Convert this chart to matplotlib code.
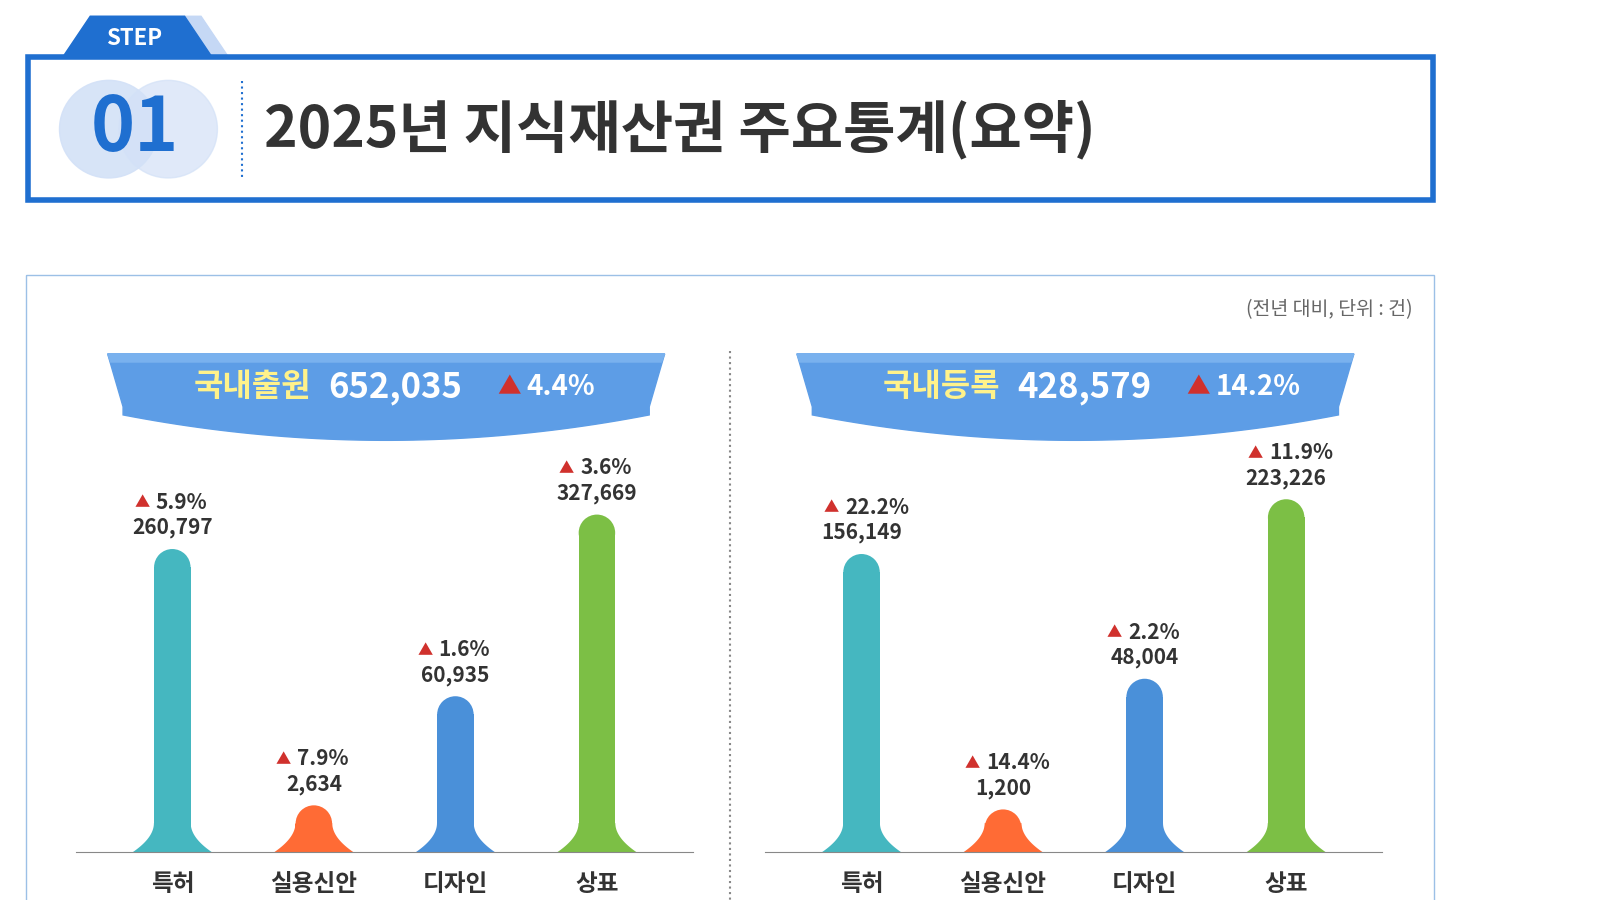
import numpy as np
import matplotlib.pyplot as plt
from matplotlib.patches import Polygon, Rectangle, Circle
import matplotlib.transforms as mtransforms

plt.rcParams['font.family'] = ['Noto Sans CJK KR', 'DejaVu Sans']

categories = ['특허', '실용신안', '디자인', '상표']
apply_values = [260797, 2634, 60935, 327669]
apply_pct = ['5.9%', '7.9%', '1.6%', '3.6%']
reg_values = [156149, 1200, 48004, 223226]
reg_pct = ['22.2%', '14.4%', '2.2%', '11.9%']
colors = ['#45b7c0', '#ff6b35', '#4a90d9', '#7cbf45']

W, H = 1560, 885
fig = plt.figure(figsize=(16, 9), dpi=100)
bg = fig.add_axes([0, 0, 1, 1])
bg.set_xlim(0, W)
bg.set_ylim(H, 0)
bg.axis('off')

# header
bg.add_patch(Polygon([[62, 55], [88, 16], [196, 16], [222, 55]], color='#c5d8f5'))
bg.add_patch(Polygon([[62, 55], [88, 16], [180, 16], [206, 55]], color='#1f6fd0'))
bg.text(131, 38, 'STEP', color='white', fontsize=16, fontweight='bold', ha='center', va='center')
bg.add_patch(Rectangle((27, 56), 1370, 141, fill=False, ec='#1f6fd0', lw=4))
bg.add_patch(Circle((106, 127), 48, color='#d3e1f7', alpha=0.9))
bg.add_patch(Circle((164, 127), 48, color='#d3e1f7', alpha=0.7))
bg.text(132, 127, '01', color='#1f6fd0', fontsize=54, fontweight='bold', ha='center', va='center')
bg.plot([236, 236], [80, 174], color='#1f6fd0', ls=':', lw=1.5)
bg.text(257, 127, '2025년 지식재산권 주요통계(요약)', color='#333333', fontsize=41,
        fontweight='bold', ha='left', va='center')

# lower panel
bg.add_patch(Rectangle((25, 270), 1373, 640, fill=False, ec='#9cc0e6', lw=1))
bg.text(1377, 304, '(전년 대비, 단위 : 건)', color='#666666', fontsize=14, ha='right', va='center')
bg.plot([712, 712], [345, 885], color='#888888', ls=':', lw=1.5)


def banner(x0, label, total, pct):
    x1 = x0 + 543
    xs = np.linspace(x0 + 15, x1 - 15, 50)
    bottom = 405 + 28 * (1 - ((xs - (x0 + x1) / 2) / ((x1 - x0) / 2)) ** 2)
    pts = [[x0, 348], [x1, 348], [x1 - 15, 400]] + list(zip(xs[::-1], bottom[::-1])) + [[x0 + 15, 400]]
    bg.add_patch(Polygon(pts, color='#5d9de6'))
    bg.add_patch(Polygon([[x0, 348], [x1, 348], [x1 - 3, 356], [x0 + 3, 356]], color='#79b1ee'))
    bg.text(x0 + 198, 381, label, color='#fff28a', fontsize=23, fontweight='bold', ha='right', va='center')
    bg.text(x0 + 215, 381, total, color='white', fontsize=25, fontweight='bold', ha='left', va='center')
    bg.text(x0 + 380, 381, '▲', color='#d0312d', fontsize=17, ha='left', va='center')
    bg.text(x0 + 408, 381, pct, color='white', fontsize=20, fontweight='bold', ha='left', va='center')


banner(105, '국내출원', '652,035', '4.4%')
banner(777, '국내등록', '428,579', '14.2%')


def panel(left_px, values, pcts, ymax):
    ax = fig.add_axes([left_px / W, (H - 838) / H, 552 / W, 408 / H])
    ax.set_yscale('function', functions=(np.sqrt, np.square))
    ax.set_xlim(-0.5, 3.5)
    ax.set_ylim(0, ymax)
    ax.patch.set_alpha(0)
    for s in ['top', 'right', 'left']:
        ax.spines[s].set_visible(False)
    ax.spines['bottom'].set_color('#888888')
    ax.spines['bottom'].set_bounds(-0.68, 3.68)
    ax.set_yticks([])
    ax.set_xticks(range(4))
    ax.set_xticklabels(categories, fontsize=17, fontweight='bold', color='#333333')
    ax.tick_params(axis='x', length=0, pad=14)
    x = np.arange(4)
    w = 0.26
    ax.bar(x, values, width=w, color=colors)
    ax.scatter(x, values, s=690, c=colors, zorder=3, linewidths=0)
    blend = mtransforms.blended_transform_factory(ax.transData, ax.transAxes)
    t = np.linspace(0, 1, 30)
    for xi, c in zip(x, colors):
        hw = w / 2 + 0.15 * (1 - t) ** 2
        px = np.concatenate([xi - hw, (xi + hw)[::-1]])
        py = np.concatenate([t * 0.07, (t * 0.07)[::-1]])
        ax.add_patch(Polygon(np.column_stack([px, py]), color=c, transform=blend, lw=0))
    for xi, v, p in zip(x, values, pcts):
        ax.annotate(f'{v:,}', (xi, v), xytext=(0, 24), textcoords='offset points',
                    ha='center', fontsize=15, fontweight='bold', color='#333333',
                    annotation_clip=False)
        ax.annotate('▲', (xi, v), xytext=(-22, 43), textcoords='offset points',
                    ha='center', fontsize=11, color='#d0312d', annotation_clip=False)
        ax.annotate(p, (xi, v), xytext=(-12, 42), textcoords='offset points',
                    ha='left', fontsize=15, fontweight='bold', color='#333333',
                    annotation_clip=False)


panel(99, apply_values, apply_pct, 553000)
panel(771, reg_values, reg_pct, 343000)

fig.savefig('out.png', dpi=100)
